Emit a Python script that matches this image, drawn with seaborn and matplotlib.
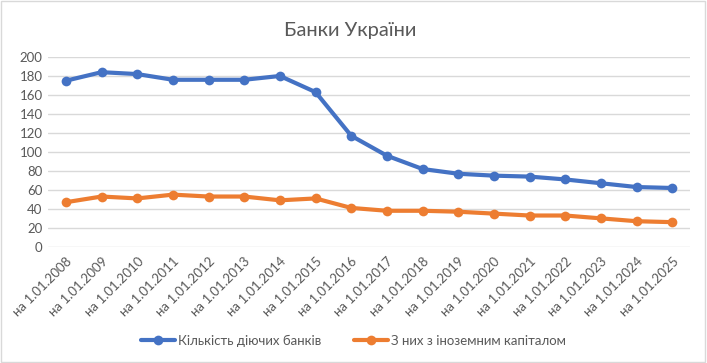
import pandas as pd
import matplotlib
matplotlib.use('Agg')
import matplotlib.pyplot as plt
import seaborn as sns
from matplotlib.patches import Rectangle

# Data
dates = ["на 1.01.%d" % y for y in range(2008, 2026)]
banks_total = [175, 184, 182, 176, 176, 176, 180, 163, 117, 96, 82, 77, 75, 74, 71, 67, 63, 62]
banks_foreign = [47, 53, 51, 55, 53, 53, 49, 51, 41, 38, 38, 37, 35, 33, 33, 30, 27, 26]
series_names = ["Кількість діючих банків", "З них з іноземним капіталом"]
colors = ["#4472C4", "#ED7D31"]

df = pd.DataFrame({
    "date": dates * 2,
    "value": banks_total + banks_foreign,
    "series": [series_names[0]] * len(dates) + [series_names[1]] * len(dates),
})

sns.set_style("white")
plt.rcParams['font.family'] = ['Lato', 'DejaVu Sans']
GREY = "#595959"

fig = plt.figure(figsize=(7.07, 3.63), dpi=100)
ax = fig.add_axes([0.068, 0.32, 0.908, 0.523])

sns.lineplot(data=df, x="date", y="value", hue="series", palette=colors,
             marker="o", markersize=7, markeredgewidth=0, linewidth=3,
             sort=False, ax=ax, legend=False)

ax.set_ylim(0, 200)
ax.set_xlim(-0.5, len(dates) - 0.5)
ax.set_yticks(range(0, 201, 20))
ax.yaxis.grid(True, color="#d9d9d9", linewidth=1)
ax.set_axisbelow(True)
for s in ax.spines.values():
    s.set_visible(False)
ax.set_xlabel("")
ax.set_ylabel("")
ax.set_xticks(range(len(dates)))
ax.set_xticklabels(dates, rotation=45, ha="right", rotation_mode="anchor")
ax.tick_params(axis="both", length=0, labelsize=9.5, colors=GREY, pad=4)
ax.tick_params(axis="x", pad=6)

fig.suptitle("Банки України", x=0.495, y=0.94, fontsize=14.5, color=GREY)

handles = [plt.Line2D([], [], color=c, linewidth=3, marker="o", markersize=7,
                      markeredgewidth=0) for c in colors]
fig.legend(handles, series_names, loc="center", bbox_to_anchor=(0.5, 0.062),
           ncol=2, frameon=False, fontsize=9.5, labelcolor=GREY,
           handlelength=2.6, columnspacing=2.5, handletextpad=0.2)

fig.patches.append(Rectangle((0.002, 0.003), 0.995, 0.993, transform=fig.transFigure,
                             fill=False, edgecolor="#d9d9d9", linewidth=1))

fig.savefig("out.png", dpi=100)
